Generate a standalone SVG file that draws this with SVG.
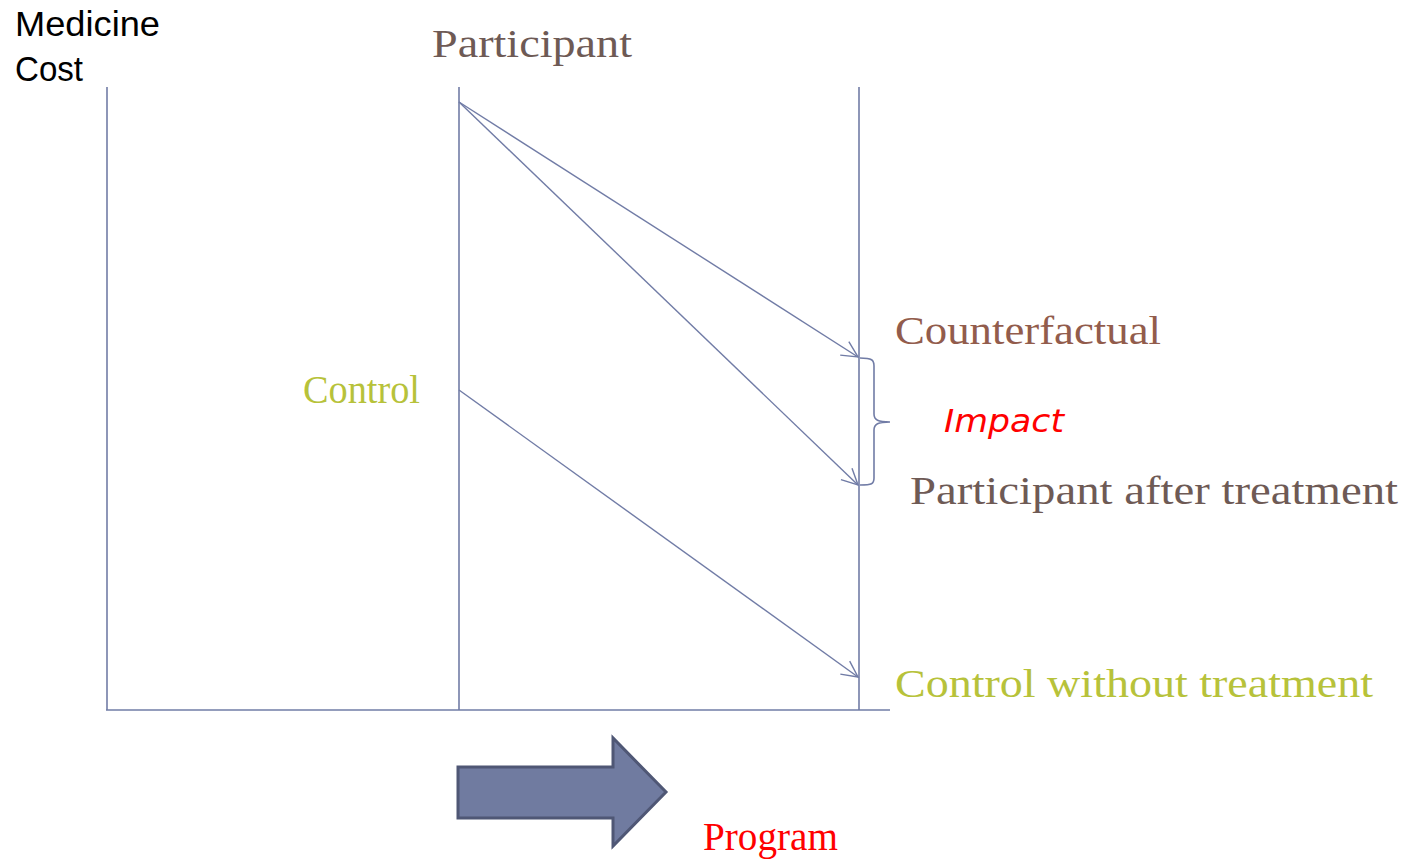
<svg xmlns="http://www.w3.org/2000/svg" width="1417" height="860" viewBox="0 0 1417 860">
  <style>
    .ax { stroke: #717ca6; stroke-width: 1.6; fill: none; }
    .cn { stroke: #717ca6; stroke-width: 1.4; fill: none; marker-end: url(#vhead); }
    .lbl { font-family: "Liberation Serif", "DejaVu Serif", serif; font-size: 40px; }
    .brown { fill: #6e5a55; }
    .rust { fill: #925c4c; }
    .green { fill: #b7c23a; }
    .red { fill: #ff0000; }
  </style>
  <defs>
    <marker id="vhead" viewBox="0 0 20 20" refX="18" refY="10" markerWidth="20" markerHeight="20" markerUnits="userSpaceOnUse" orient="auto">
      <path d="M2,2 L18,10 L2,18" fill="none" stroke="#717ca6" stroke-width="1.4"/>
    </marker>
  </defs>

  <g id="axes">
    <line class="ax" x1="107" y1="87" x2="107" y2="710"/>
    <line class="ax" x1="106" y1="710" x2="890" y2="710"/>
    <line class="ax" x1="459" y1="87" x2="459" y2="710"/>
    <line class="ax" x1="859" y1="87" x2="859" y2="710"/>
  </g>

  <g id="connectors">
    <line class="cn" x1="459" y1="102" x2="858" y2="357"/>
    <line class="cn" x1="459" y1="102" x2="858" y2="485"/>
    <line class="cn" x1="459" y1="390" x2="858" y2="677"/>
  </g>

  <g id="brace">
    <path class="ax" d="M860,358 C872,358 874,360 874,366 L874,414 C874,420 878,422 890,422 C878,422 874,424 874,430 L874,478 C874,484 872,485 860,485"/>
  </g>

  <g id="y-label">
    <text x="15" y="36" font-family="Liberation Sans, Arial, sans-serif" font-size="35" fill="#000" textLength="145" lengthAdjust="spacingAndGlyphs">Medicine</text>
    <text x="15" y="81" font-family="Liberation Sans, Arial, sans-serif" font-size="35" fill="#000" textLength="68" lengthAdjust="spacingAndGlyphs">Cost</text>
  </g>

  <g id="participant">
    <text class="lbl brown" x="432" y="57" textLength="200" lengthAdjust="spacingAndGlyphs">Participant</text>
  </g>

  <g id="control">
    <text class="lbl green" x="303" y="403" textLength="117" lengthAdjust="spacingAndGlyphs">Control</text>
  </g>

  <g id="counterfactual">
    <text class="lbl rust" x="895" y="344" textLength="266" lengthAdjust="spacingAndGlyphs">Counterfactual</text>
  </g>

  <g id="impact">
    <text x="944" y="432" font-family="DejaVu Sans, sans-serif" font-style="italic" font-size="32" fill="#ff0000" textLength="120" lengthAdjust="spacingAndGlyphs">Impact</text>
  </g>

  <g id="participant-after">
    <text class="lbl brown" x="910" y="504" textLength="488" lengthAdjust="spacingAndGlyphs">Participant after treatment</text>
  </g>

  <g id="control-without">
    <text class="lbl green" x="895" y="697" textLength="478" lengthAdjust="spacingAndGlyphs">Control without treatment</text>
  </g>

  <g id="program">
    <path d="M458,767 L613,767 L613,738 L666,792 L613,846 L613,818 L458,818 Z" fill="#707ba0" stroke="#4f5775" stroke-width="3" stroke-linejoin="miter"/>
    <text class="lbl red" x="703" y="850" textLength="135" lengthAdjust="spacingAndGlyphs" font-size="36">Program</text>
  </g>
</svg>
